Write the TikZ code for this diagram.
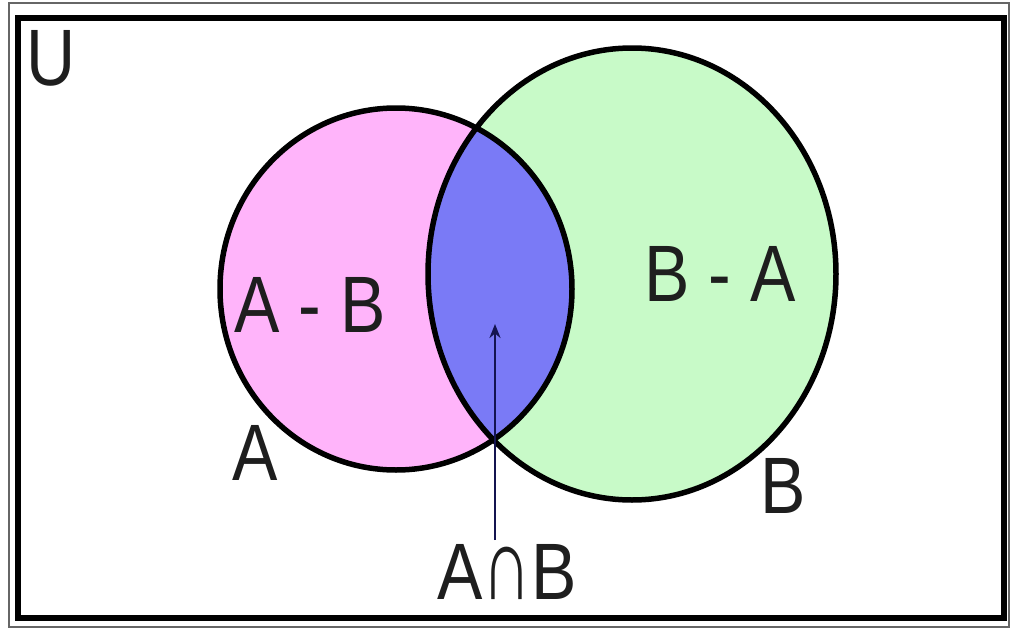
\documentclass[tikz,border=0pt]{standalone}
\usepackage{fontspec}
\usetikzlibrary{arrows.meta}
\newfontfamily\labfont[FakeStretch=0.85]{Liberation Sans}
\definecolor{setpink}{RGB}{255,180,250}
\definecolor{setgreen}{RGB}{200,250,200}
\definecolor{setblue}{RGB}{122,122,246}
\definecolor{txtcol}{RGB}{30,30,30}
\definecolor{arrcol}{RGB}{20,20,80}
\tikzset{
  lab/.style={inner sep=0pt, text=txtcol, font=\labfont\fontsize{80}{80}\selectfont},
  setline/.style={line width=5.5pt, draw=black},
}
\begin{document}
\begin{tikzpicture}[x=1pt,y=-1pt]
\useasboundingbox (0,0) rectangle (1010,629);
\fill[white] (0,0) rectangle (1010,629);
% frames
\draw[line width=1.2pt, draw=black!60] (9,3) rectangle (1009,627);
\draw[line width=6pt] (18,18) rectangle (1004,618);
% sets
\def\setA{(396,289) ellipse [x radius=176, y radius=181]}
\def\setB{(632,274) ellipse [x radius=204, y radius=226]}
\fill[setpink] \setA;
\fill[setgreen] \setB;
\begin{scope}
  \clip \setA;
  \fill[setblue] \setB;
\end{scope}
\draw[setline] \setA;
\draw[setline] \setB;
% labels
\node[lab] (U) at (51,58) {U};
\node[lab] (AmB) at (310,305) {A - B};
\node[lab] (BmA) at (720,274) {B - A};
\node[lab] (A) at (255,453) {A};
\node[lab] (B) at (783,486) {B};
\node[lab] (AnB) at (507,572) {A\scalebox{1}[1.3]{∩}B};
% arrow
\coordinate (tail) at (495,540);
\coordinate (head) at (495,324);
\draw[line width=2.5pt, draw=arrcol, -{Stealth[length=14pt,width=11pt]}] (tail) -- (head);
\end{tikzpicture}
\end{document}
